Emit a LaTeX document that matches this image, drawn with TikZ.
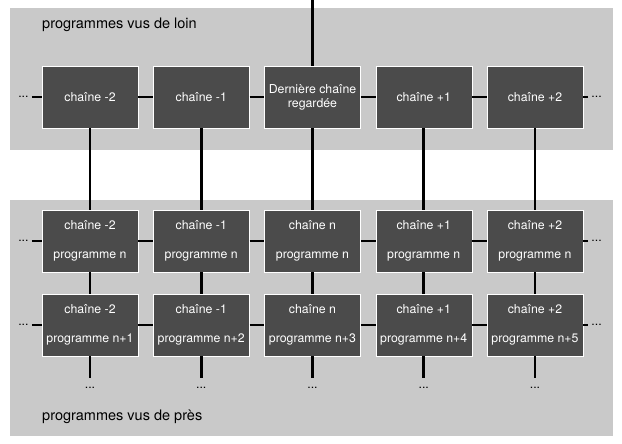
\documentclass[tikz,border=0pt]{standalone}
\usepackage{fontspec}
\setmainfont{TeX Gyre Heros}
\usetikzlibrary{positioning}

\definecolor{fond}{HTML}{C9C9C9}
\definecolor{boite}{HTML}{4B4B4B}

\begin{document}
\begin{tikzpicture}[x=1pt, y=-1pt, node distance=14.75pt,
	main/.style = {draw=white, line width=0.5pt, fill=boite, text=white, minimum width=96pt, minimum height=62pt, inner sep=0pt, align=center, font=\fontsize{12.3}{14}\selectfont},
	dots/.style = {inner xsep=3pt, inner ysep=9pt, font=\fontsize{12.3}{14}\selectfont},
	lien/.style = {draw=black, line width=2.6pt},
	titre/.style = {anchor=base west, inner sep=0pt, font=\fontsize{14.5}{17}\selectfont}]
	\useasboundingbox (0,0) rectangle (622,444);
	% panneaux
	\fill[fond] (10,8) rectangle (613,150);
	\fill[fond] (10,200) rectangle (613,436);
	\node[titre] (loin) at (42,29) {programmes vus de loin};
	\node[titre] (pres) at (42,420) {programmes vus de près};
	% programmes vus de loin
	\node[main] (t1) at (90,97) {chaîne -2};
	\node[main] (t2) [right=of t1] {chaîne -1};
	\node[main] (t3) [right=of t2] {Dernière chaîne\\regardée};
	\node[main] (t4) [right=of t3] {chaîne +1};
	\node[main] (t5) [right=of t4] {chaîne +2};
	% programmes vus de pres
	\node[main] (a1) [below=81.5pt of t1] {chaîne -2\\[15pt]programme n};
	\node[main] (a2) [right=of a1] {chaîne -1\\[15pt]programme n};
	\node[main] (a3) [right=of a2] {chaîne n\\[15pt]programme n};
	\node[main] (a4) [right=of a3] {chaîne +1\\[15pt]programme n};
	\node[main] (a5) [right=of a4] {chaîne +2\\[15pt]programme n};
	\node[main] (b1) [below=21.5pt of a1] {chaîne -2\\[15pt]programme n+1};
	\node[main] (b2) [right=of b1] {chaîne -1\\[15pt]programme n+2};
	\node[main] (b3) [right=of b2] {chaîne n\\[15pt]programme n+3};
	\node[main] (b4) [right=of b3] {chaîne +1\\[15pt]programme n+4};
	\node[main] (b5) [right=of b4] {chaîne +2\\[15pt]programme n+5};
	% points de suspension
	\node[dots] (tg) [left=10pt of t1] {...};
	\node[dots] (td) [right=5pt of t5] {...};
	\node[dots] (ag) [left=10pt of a1] {...};
	\node[dots] (ad) [right=5pt of a5] {...};
	\node[dots] (bg) [left=10pt of b1] {...};
	\node[dots] (bd) [right=5pt of b5] {...};
	\foreach \i in {1,...,5}
		\node[dots] (c\i) [below=22pt of b\i] {...};
	% liens
	\coordinate (entree) at (t3.north |- 0,0);
	\draw[lien] (entree) -- (t3);
	\draw[lien] (tg) -- (t1) -- (t2) -- (t3) -- (t4) -- (t5) -- (td);
	\draw[lien] (ag) -- (a1) -- (a2) -- (a3) -- (a4) -- (a5) -- (ad);
	\draw[lien] (bg) -- (b1) -- (b2) -- (b3) -- (b4) -- (b5) -- (bd);
	\foreach \i in {1,...,5} {
		\draw[lien] (t\i) -- (a\i);
		\draw[lien] (a\i) -- (b\i);
		\draw[lien] (b\i) -- (c\i);
	}
\end{tikzpicture}
\end{document}
